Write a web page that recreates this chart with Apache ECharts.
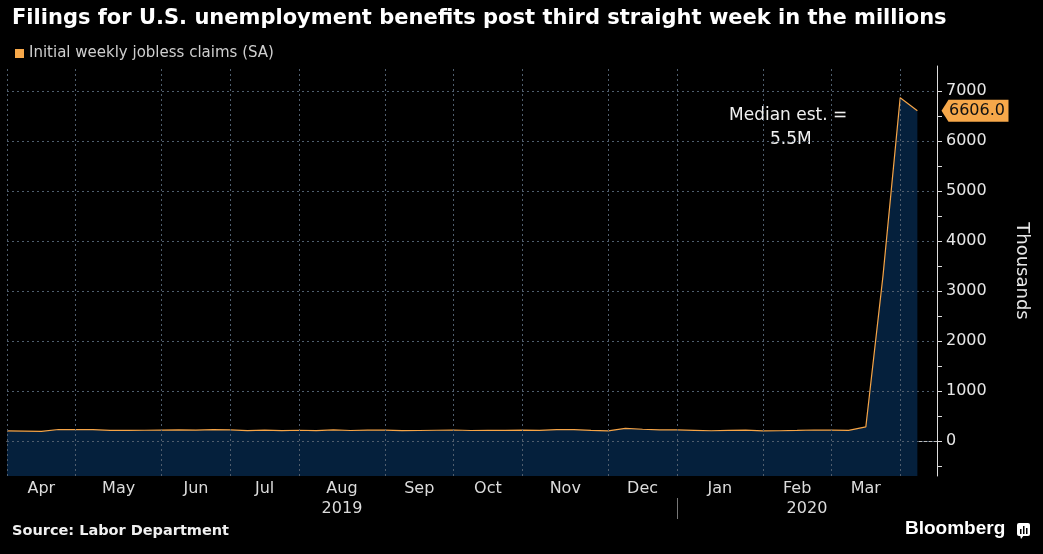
<!DOCTYPE html>
<html>
<head>
<meta charset="utf-8">
<script src="https://cdn.jsdelivr.net/npm/echarts@6/dist/echarts.min.js"></script>
<style>
html,body{margin:0;padding:0;background:#000;}
#c{width:1043px;height:554px;}
</style>
</head>
<body>
<div id="c"></div>
<script>
// ---- data ----
const dates = [
 '2019-04-05','2019-04-12','2019-04-19','2019-04-26',
 '2019-05-03','2019-05-10','2019-05-17','2019-05-24','2019-05-31',
 '2019-06-07','2019-06-14','2019-06-21','2019-06-28',
 '2019-07-05','2019-07-12','2019-07-19','2019-07-26',
 '2019-08-02','2019-08-09','2019-08-16','2019-08-23','2019-08-30',
 '2019-09-06','2019-09-13','2019-09-20','2019-09-27',
 '2019-10-04','2019-10-11','2019-10-18','2019-10-25',
 '2019-11-01','2019-11-08','2019-11-15','2019-11-22','2019-11-29',
 '2019-12-06','2019-12-13','2019-12-20','2019-12-27',
 '2020-01-03','2020-01-10','2020-01-17','2020-01-24','2020-01-31',
 '2020-02-07','2020-02-14','2020-02-21','2020-02-28',
 '2020-03-06','2020-03-13','2020-03-20','2020-03-27',
 '2020-04-03','2020-04-10'
];
const claims = [
 203,197,193,230,
 228,228,212,212,215,
 218,222,216,227,
 222,209,216,207,
 215,209,221,210,216,
 219,206,210,215,
 220,210,215,213,
 219,213,226,228,214,
 203,252,235,224,
 222,214,205,212,217,
 202,205,211,220,
 217,211,282,3307,
 6867,6606
];
const monthTicks = ['2019-04-05','2019-05-03','2019-06-07','2019-07-05','2019-08-02','2019-09-06',
 '2019-10-04','2019-11-01','2019-12-06','2020-01-03','2020-02-07','2020-03-06','2020-04-03'];
const monthNames = ['Jan','Feb','Mar','Apr','May','Jun','Jul','Aug','Sep','Oct','Nov','Dec'];
const yearBreak = '2020-01-03';
const yLabels = [0,1000,2000,3000,4000,5000,6000,7000];
const lastLabel = '6606.0';
const xStart = '2019-04-05', xEnd = '2020-04-18';

function ts(s){const p=s.split('-').map(Number);return new Date(p[0],p[1]-1,p[2]).getTime();}
const xMin = ts(xStart), xMax = ts(xEnd);
const tickTs = monthTicks.map(ts);
const labelTs = [];
for (let i=0;i<tickTs.length-1;i++) labelTs.push((tickTs[i]+tickTs[i+1])/2);
const yearTs = [(xMin+ts(yearBreak))/2, (ts(yearBreak)+xMax)/2];
const yTicks = [];
for (let v=-500; v<=7000; v+=500) yTicks.push(v);

const FONT = 'DejaVu Sans';
const gridColor = '#4f5d6d';

const chart = echarts.init(document.getElementById('c'));
chart.setOption({
  backgroundColor:'#000',
  animation:false,
  title:{
    text:'Filings for U.S. unemployment benefits post third straight week in the millions',
    left:7, top:3,
    textStyle:{color:'#fff',fontSize:21,fontWeight:'bold',fontFamily:FONT}
  },
  legend:{
    left:10, top:41, itemWidth:9, itemHeight:9, itemGap:10,
    icon:'rect',
    textStyle:{color:'#cfcfcf',fontSize:15,fontFamily:FONT},
    data:[{name:'Initial weekly jobless claims (SA)', itemStyle:{color:'#f7a84a'}}]
  },
  grid:{left:7,right:106,top:66,bottom:78},
  xAxis:[{
    type:'value', min:xMin, max:xMax, scale:true,
    axisLine:{lineStyle:{color:'#bdbdbd',width:1}},
    axisTick:{show:true,customValues:tickTs,length:4,lineStyle:{color:'#bdbdbd'}},
    axisLabel:{customValues:labelTs,color:'#dcdcdc',fontSize:16,fontFamily:FONT,margin:5,
      formatter:function(v){return monthNames[new Date(v).getMonth()];}},
    splitLine:{show:false}
  },{
    type:'value', min:xMin, max:xMax, scale:true, position:'bottom', offset:22,
    axisLine:{show:false},
    axisTick:{show:true,customValues:[ts(yearBreak)],length:21,lineStyle:{color:'#777'}},
    axisLabel:{customValues:yearTs,color:'#dcdcdc',fontSize:16,fontFamily:FONT,margin:3,
      formatter:function(v){return String(new Date(v).getFullYear());}},
    splitLine:{show:false}
  }],
  yAxis:{
    type:'value', position:'right', min:-700, max:7500,
    name:'Thousands', nameLocation:'middle', nameRotate:-90, nameGap:76,
    nameTextStyle:{color:'#e6e6e6',fontSize:18,fontFamily:FONT},
    axisLine:{show:true,lineStyle:{color:'#dddddd',width:1}},
    axisTick:{show:true,customValues:yTicks,length:5,lineStyle:{color:'#dddddd'}},
    axisLabel:{customValues:yLabels,color:'#e6e6e6',fontSize:16,fontFamily:FONT,margin:9,
      formatter:function(v){return String(v);}},
    splitLine:{show:false}
  },
  series:[{
    name:'Initial weekly jobless claims (SA)',
    type:'line',
    data:dates.map((d,i)=>[ts(d),claims[i]]),
    symbol:'none',
    lineStyle:{color:'#f5a447',width:1.2},
    itemStyle:{color:'#f7a84a'},
    areaStyle:{color:'#05203c',opacity:1,origin:'start'},
    markLine:{
      silent:true, symbol:'none', label:{show:false},
      lineStyle:{color:gridColor,type:[2,3],width:1},
      data:yLabels.map(v=>({yAxis:v})).concat(tickTs.map(t=>({xAxis:t})))
    },
    markPoint:{
      silent:true,
      data:[{
        coord:[xMax,claims[claims.length-1]],
        symbol:'path://M0,11 L7,0 L67,0 L67,22 L7,22 Z',
        symbolSize:[67,22], symbolKeepAspect:false, symbolOffset:[38,0],
        itemStyle:{color:'#f7a84a'},
        label:{show:true,position:'inside',formatter:lastLabel,color:'#111',fontSize:16,fontFamily:FONT,offset:[2,0]}
      }]
    }
  }],
  graphic:[
    {type:'text',left:729,top:107,style:{text:'Median est. =',fill:'#f0f0f0',font:'17px "DejaVu Sans"'}},
    {type:'text',left:770,top:131,style:{text:'5.5M',fill:'#f0f0f0',font:'17px "DejaVu Sans"'}},
    {type:'text',left:12,top:524,style:{text:'Source: Labor Department',fill:'#f0f0f0',font:'bold 14.5px "DejaVu Sans"'}},
    {type:'text',left:905,top:519,style:{text:'Bloomberg',fill:'#ffffff',font:'bold 19px "Liberation Sans"'}},
    {type:'group',left:1017,top:523,children:[
      {type:'rect',shape:{x:0,y:0,width:13,height:13,r:2},style:{fill:'#fff'}},
      {type:'polygon',shape:{points:[[3,12],[7,12],[4,16]]},style:{fill:'#fff'}},
      {type:'rect',shape:{x:3,y:6,width:1.5,height:5},style:{fill:'#000'}},
      {type:'rect',shape:{x:6,y:3,width:1.5,height:8},style:{fill:'#000'}},
      {type:'rect',shape:{x:9,y:5,width:1.5,height:6},style:{fill:'#000'}}
    ]}
  ]
});
</script>
</body>
</html>
